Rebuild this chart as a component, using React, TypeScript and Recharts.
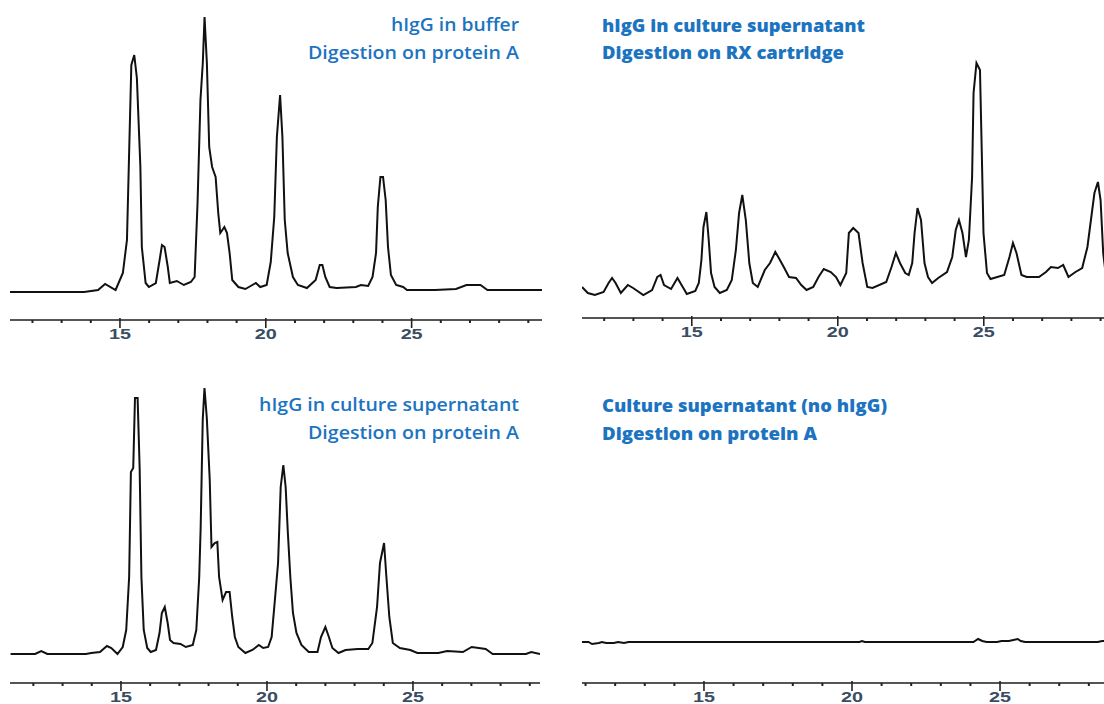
import React from "react";
import { LineChart, Line, XAxis, YAxis } from "recharts";

// ---- Panel 1: hIgG in buffer, digestion on protein A ----
const P1_T = [11.23, 13.77, 14.25, 14.49, 14.85, 15.10, 15.24, 15.31, 15.39, 15.49, 15.58, 15.70, 15.75, 15.88, 15.99, 16.23, 16.36, 16.44, 16.53, 16.64, 16.71, 16.95, 17.19, 17.43, 17.56, 17.66, 17.76, 17.84, 17.90, 17.98, 18.06, 18.16, 18.28, 18.37, 18.44, 18.58, 18.67, 18.76, 18.85, 19.06, 19.30, 19.54, 19.66, 19.81, 20.03, 20.17, 20.29, 20.38, 20.49, 20.57, 20.65, 20.75, 20.93, 21.10, 21.41, 21.71, 21.85, 21.94, 22.04, 22.19, 22.43, 23.09, 23.26, 23.51, 23.66, 23.78, 23.84, 23.93, 24.02, 24.11, 24.19, 24.29, 24.47, 24.71, 24.84, 25.80, 26.52, 26.88, 27.36, 27.60, 29.47];
const P1_V = [0, 0, 2, 8, 2, 19, 52, 134, 227, 237, 214, 125, 45, 9, 5, 9, 32, 47, 45, 25, 9, 11, 7, 10, 15, 89, 192, 229, 275, 229, 145, 125, 115, 79, 59, 65, 59, 39, 12, 5, 3, 7, 9, 5, 7, 30, 75, 155, 197, 155, 72, 39, 15, 7, 4, 12, 27, 27, 15, 5, 4, 5, 7, 6, 15, 39, 85, 115, 115, 92, 45, 17, 7, 5, 2, 2, 3, 7, 7, 2, 2];

// ---- Panel 2: hIgG in culture supernatant, digestion on RX cartridge ----
const P2_T = [11.24, 11.44, 11.68, 11.98, 12.15, 12.27, 12.39, 12.57, 12.81, 12.99, 13.34, 13.64, 13.82, 13.93, 14.05, 14.29, 14.51, 14.65, 14.83, 15.12, 15.24, 15.33, 15.40, 15.50, 15.58, 15.66, 15.78, 15.96, 16.20, 16.37, 16.51, 16.62, 16.73, 16.85, 16.97, 17.09, 17.26, 17.50, 17.68, 17.86, 17.98, 18.15, 18.33, 18.57, 18.75, 18.93, 19.16, 19.34, 19.52, 19.76, 19.94, 20.09, 20.29, 20.38, 20.53, 20.71, 20.85, 21.01, 21.19, 21.66, 21.84, 21.99, 22.13, 22.31, 22.43, 22.55, 22.63, 22.73, 22.85, 22.97, 23.09, 23.23, 23.44, 23.74, 23.92, 24.04, 24.15, 24.27, 24.39, 24.49, 24.60, 24.65, 24.75, 24.87, 24.93, 24.99, 25.11, 25.23, 25.70, 25.88, 26.00, 26.12, 26.29, 26.47, 26.89, 27.13, 27.30, 27.54, 27.72, 27.90, 28.14, 28.37, 28.55, 28.67, 28.79, 28.91, 29.00, 29.09, 29.20, 29.47];
const P2_V = [8, 2, 0, 3, 12, 17, 12, 2, 10, 7, 0, 5, 18, 20, 10, 6, 17, 10, 1, 4, 12, 35, 68, 83, 55, 22, 8, 2, 5, 15, 45, 82, 100, 75, 32, 12, 8, 25, 32, 43, 37, 28, 18, 17, 10, 5, 8, 18, 26, 23, 18, 10, 22, 62, 67, 62, 32, 8, 7, 13, 28, 42, 32, 22, 20, 32, 62, 87, 75, 32, 18, 12, 17, 23, 38, 65, 75, 62, 38, 55, 118, 202, 232, 225, 145, 62, 22, 16, 20, 38, 52, 42, 20, 18, 18, 23, 28, 27, 30, 18, 23, 27, 48, 75, 102, 113, 95, 42, 15, 10];

// ---- Panel 3: hIgG in culture supernatant, digestion on protein A ----
const P3_T = [11.22, 12.06, 12.27, 12.48, 13.80, 13.98, 14.28, 14.52, 14.67, 14.88, 15.06, 15.18, 15.28, 15.34, 15.42, 15.48, 15.57, 15.64, 15.70, 15.78, 15.90, 16.02, 16.20, 16.32, 16.40, 16.50, 16.60, 16.68, 16.80, 17.04, 17.22, 17.46, 17.58, 17.68, 17.73, 17.80, 17.86, 17.94, 18.04, 18.10, 18.21, 18.30, 18.36, 18.48, 18.60, 18.72, 18.81, 18.90, 19.02, 19.26, 19.50, 19.72, 19.87, 20.04, 20.16, 20.28, 20.38, 20.47, 20.56, 20.64, 20.71, 20.80, 20.89, 21.01, 21.18, 21.43, 21.73, 21.85, 22.00, 22.12, 22.24, 22.45, 22.69, 23.11, 23.47, 23.61, 23.77, 23.87, 24.01, 24.09, 24.19, 24.31, 24.55, 24.91, 25.15, 25.87, 26.17, 26.71, 27.01, 27.49, 27.73, 28.87, 29.05, 29.35];
const P3_V = [0, 0, 3, 0, 0, 1, 2, 8, 6, 0, 7, 24, 77, 182, 186, 256, 256, 186, 77, 24, 6, 2, 4, 21, 41, 47, 31, 14, 11, 10, 7, 9, 24, 77, 127, 234, 266, 236, 174, 107, 111, 112, 77, 54, 62, 62, 37, 17, 7, 1, 4, 9, 6, 7, 17, 57, 91, 167, 189, 167, 124, 77, 41, 21, 9, 2, 2, 17, 27, 17, 6, 1, 4, 5, 5, 11, 47, 91, 111, 77, 37, 11, 6, 4, 1, 1, 3, 2, 7, 5, 0, 0, 2, 0];

// ---- Panel 4: culture supernatant (no hIgG), digestion on protein A ----
const P4_T = [10.88, 11.10, 11.22, 11.45, 11.55, 11.70, 11.95, 12.10, 12.30, 12.45, 13.00, 20.25, 20.34, 20.43, 24.10, 24.26, 24.40, 24.55, 24.90, 25.05, 25.30, 25.45, 25.60, 25.70, 25.85, 28.30, 28.45, 28.60, 28.85];
const P4_V = [0, 0, -2, -1, 0, -1, -1, 0, -1, 0, 0, 0, 1, 0, 0, 3, 1, 0, 0, 1, 1, 2, 3, 1, 0, 0, 1, 1, 0];

const TICKS_A = [12, 13, 14, 15, 16, 17, 18, 19, 20, 21, 22, 23, 24, 25, 26, 27, 28, 29];
const TICKS_B = [11, 12, 13, 14, 15, 16, 17, 18, 19, 20, 21, 22, 23, 24, 25, 26, 27, 28];
const MAJOR_TICKS = [15, 20, 25];

const TITLE_BLUE = "#1c74c1";

function zip(ts: number[], vs: number[]) {
  return ts.map((t, i) => ({ t, v: vs[i] }));
}

function AxisTick(props: any) {
  const { x, y, payload } = props;
  const v = payload.value;
  const major = MAJOR_TICKS.includes(v);
  return (
    <g>
      <line
        x1={x}
        x2={x}
        y1={major ? y - 2 : y}
        y2={major ? y + 8 : y + 3}
        stroke="#222"
        strokeWidth={major ? 1.6 : 2}
      />
      {major && (
        <text
          x={x}
          y={y + 19}
          textAnchor="middle"
          fontFamily="Liberation Sans, Arial, sans-serif"
          fontWeight="bold"
          fontSize={14}
          fill="#3a4d63"
          textLength={22}
          lengthAdjust="spacingAndGlyphs"
        >
          {v}
        </text>
      )}
    </g>
  );
}

type PanelProps = {
  left: number;
  top: number;
  width: number;
  height: number;
  margin: { top: number; right: number; bottom: number; left: number };
  data: { t: number; v: number }[];
  xDomain: [number, number];
  yDomain: [number, number];
  ticks: number[];
};

function Panel(p: PanelProps) {
  return (
    <div style={{ position: "absolute", left: p.left, top: p.top, width: p.width, height: p.height }}>
      <LineChart width={p.width} height={p.height} data={p.data} margin={p.margin}>
        <XAxis
          dataKey="t"
          type="number"
          domain={p.xDomain}
          allowDataOverflow
          ticks={p.ticks}
          interval={0}
          tickSize={0}
          tickMargin={0}
          tickLine={false}
          height={30}
          axisLine={{ stroke: "#555", strokeWidth: 2 }}
          tick={<AxisTick />}
        />
        <YAxis hide type="number" domain={p.yDomain} allowDataOverflow />
        <Line
          type="linear"
          dataKey="v"
          stroke="#111"
          strokeWidth={2}
          strokeLinejoin="miter"
          dot={false}
          isAnimationActive={false}
        />
      </LineChart>
    </div>
  );
}

function Title({ x, y, text, width, weight }: { x: number; y: number; text: string; width: number; weight: number }) {
  return (
    <text
      x={x}
      y={y}
      fontFamily="'Open Sans', 'Noto Sans', sans-serif"
      fontWeight={weight}
      fontSize={18}
      fill={TITLE_BLUE}
      textLength={width}
      lengthAdjust="spacingAndGlyphs"
    >
      {text}
    </text>
  );
}

export default function App() {
  return (
    <div
      style={{
        position: "absolute",
        left: 0,
        top: 0,
        width: 1104,
        height: 704,
        overflow: "hidden",
        background: "#fff",
      }}
    >
      <Panel
        left={0}
        top={0}
        width={552}
        height={350}
        margin={{ top: 17, right: 10, bottom: 0, left: 10 }}
        data={zip(P1_T, P1_V)}
        xDomain={[11.23, 29.47]}
        yDomain={[-28, 275]}
        ticks={TICKS_A}
      />
      <Panel
        left={552}
        top={0}
        width={572}
        height={348}
        margin={{ top: 15, right: 10, bottom: 0, left: 30 }}
        data={zip(P2_T, P2_V)}
        xDomain={[11.24, 29.46]}
        yDomain={[-23, 280]}
        ticks={TICKS_A}
      />
      <Panel
        left={0}
        top={360}
        width={552}
        height={353}
        margin={{ top: 16, right: 12, bottom: 0, left: 10 }}
        data={zip(P3_T, P3_V)}
        xDomain={[11.2, 29.35]}
        yDomain={[-29, 278]}
        ticks={TICKS_A}
      />
      <Panel
        left={552}
        top={360}
        width={572}
        height={353}
        margin={{ top: 16, right: 10, bottom: 0, left: 30 }}
        data={zip(P4_T, P4_V)}
        xDomain={[10.88, 28.85]}
        yDomain={[-41, 266]}
        ticks={TICKS_B}
      />
      <svg
        width={1104}
        height={704}
        style={{ position: "absolute", left: 0, top: 0, pointerEvents: "none" }}
      >
        <Title x={391} y={31} text="hIgG in buffer" width={128} weight={600} />
        <Title x={308} y={59} text="Digestion on protein A" width={211} weight={600} />
        <Title x={602} y={32} text="hIgG in culture supernatant" width={263} weight={800} />
        <Title x={602} y={59} text="Digestion on RX cartridge" width={242} weight={800} />
        <Title x={259} y={411} text="hIgG in culture supernatant" width={260} weight={600} />
        <Title x={308} y={439} text="Digestion on protein A" width={211} weight={600} />
        <Title x={602} y={412} text="Culture supernatant (no hIgG)" width={285} weight={800} />
        <Title x={602} y={440} text="Digestion on protein A" width={215} weight={800} />
      </svg>
    </div>
  );
}
